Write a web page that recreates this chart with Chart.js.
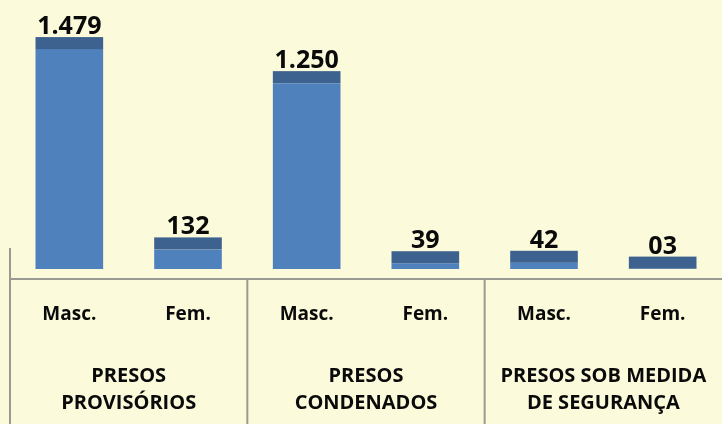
<!DOCTYPE html>
<html>
<head>
<meta charset="utf-8">
<script src="https://cdn.jsdelivr.net/npm/chart.js"></script>
<style>
  html, body { margin: 0; padding: 0; background: #fbfbdc; }
  canvas { display: block; }
</style>
</head>
<body>
<canvas id="chart" width="722" height="424"></canvas>
<script>
const subLabels = ['Masc.', 'Fem.', 'Masc.', 'Fem.', 'Masc.', 'Fem.'];
const groupLabels = [['PRESOS', 'PROVISÓRIOS'], ['PRESOS', 'CONDENADOS'], ['PRESOS SOB MEDIDA', 'DE SEGURANÇA']];
const presos = [1479, 132, 1250, 39, 42, 3];

const FONT = '"Open Sans", Lato, sans-serif';
const CAP = 12;

const fmt = v => v >= 1000 ? v.toLocaleString('pt-BR') : String(v).padStart(2, '0');

// dark top cap + value label above each bar
const capsPlugin = {
  id: 'caps',
  afterDatasetsDraw(chart) {
    const ctx = chart.ctx;
    const meta = chart.getDatasetMeta(0);
    ctx.save();
    meta.data.forEach((bar, i) => {
      const w = bar.width;
      ctx.fillStyle = '#3d6290';
      ctx.fillRect(bar.x - w / 2, bar.y - CAP, w, CAP);
      ctx.fillStyle = '#0a0a0a';
      ctx.font = 'bold 25px ' + FONT;
      ctx.textAlign = 'center';
      ctx.textBaseline = 'alphabetic';
      ctx.fillText(fmt(presos[i]), bar.x, bar.y - CAP - 3);
    });
    ctx.restore();
  }
};

// two-level category axis drawn under the plot
const axisPlugin = {
  id: 'axis2',
  afterDraw(chart) {
    const ctx = chart.ctx;
    const x = chart.scales.x;
    const area = chart.chartArea;
    const H = chart.height;
    const step = (area.right - area.left) / subLabels.length;
    ctx.save();
    ctx.strokeStyle = '#9a9a90';
    ctx.lineWidth = 2;
    ctx.beginPath();
    ctx.moveTo(area.left, area.bottom - 31);
    ctx.lineTo(area.left, H);
    ctx.moveTo(area.left, area.bottom);
    ctx.lineTo(area.right, area.bottom);
    for (let g = 1; g < groupLabels.length; g++) {
      const gx = area.left + g * 2 * step;
      ctx.moveTo(gx, area.bottom);
      ctx.lineTo(gx, H);
    }
    ctx.stroke();

    ctx.fillStyle = '#0a0a0a';
    ctx.textAlign = 'center';
    ctx.textBaseline = 'middle';
    ctx.font = 'bold 19px ' + FONT;
    subLabels.forEach((t, i) => {
      ctx.fillText(t, x.getPixelForValue(i), area.bottom + 36);
    });
    ctx.font = 'bold 20px ' + FONT;
    groupLabels.forEach((lines, g) => {
      const cx = area.left + (g * 2 + 1) * step;
      lines.forEach((t, k) => {
        ctx.fillText(t, cx, area.bottom + 97 + k * 27);
      });
    });
    ctx.restore();
  }
};

new Chart(document.getElementById('chart'), {
  type: 'bar',
  data: {
    labels: subLabels,
    datasets: [{
      data: presos,
      backgroundColor: '#4f81bd',
      borderWidth: 0,
      barPercentage: 0.57,
      categoryPercentage: 1
    }]
  },
  options: {
    responsive: false,
    animation: false,
    layout: { padding: { left: 10, right: 0, top: 0, bottom: 145 } },
    plugins: { legend: { display: false }, tooltip: { enabled: false } },
    scales: {
      x: { display: false },
      y: { display: false, min: -67, max: 1809 }
    }
  },
  plugins: [capsPlugin, axisPlugin]
});
</script>
</body>
</html>
